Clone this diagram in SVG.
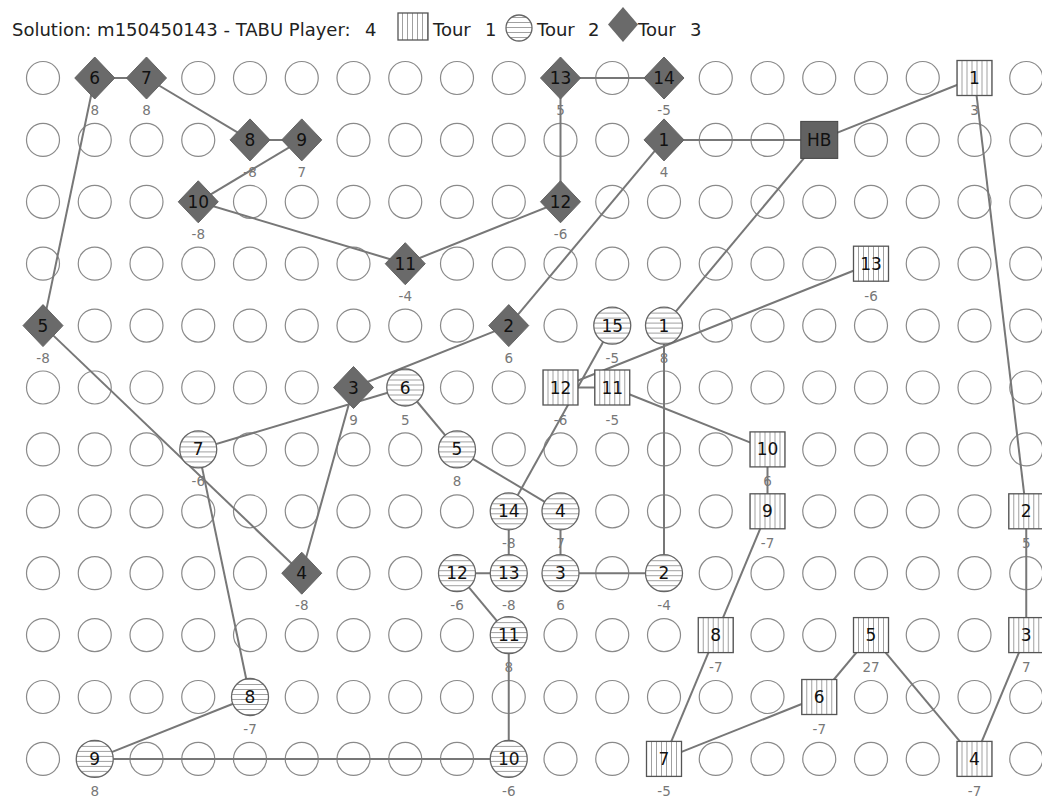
<svg xmlns="http://www.w3.org/2000/svg" xmlns:xlink="http://www.w3.org/1999/xlink" width="1042" height="800" viewBox="0 0 1042 800">
<style>
.gc{fill:#fff;stroke:#8a8a8a;stroke-width:1.2}
.e line{stroke:#777;stroke-width:2}
.n{font-family:"DejaVu Sans",sans-serif;font-size:17px;text-anchor:middle;fill:#111}
.v{font-family:"DejaVu Sans",sans-serif;font-size:13.5px;text-anchor:middle;fill:#777}
.h{font-family:"DejaVu Sans",sans-serif;font-size:18px;fill:#222}
</style>
<defs>
<pattern id="vh" patternUnits="userSpaceOnUse" width="5" height="5"><rect width="5" height="5" fill="#fff"/><line x1="2.5" y1="0" x2="2.5" y2="5" stroke="#a0a0a0" stroke-width="1"/></pattern>
<pattern id="hh" patternUnits="userSpaceOnUse" width="5" height="5"><rect width="5" height="5" fill="#fff"/><line x1="0" y1="2.5" x2="5" y2="2.5" stroke="#a0a0a0" stroke-width="1"/></pattern>
<circle id="gc" r="16.5" class="gc"/>
<polygon id="dia" points="0,-21 20,0 0,21 -20,0" fill="#6a6a6a" stroke="#626262" stroke-width="1"/>
<rect id="sq" x="-17.5" y="-17.5" width="35" height="35" fill="url(#vh)" stroke="#555" stroke-width="1.3"/>
<circle id="hc" r="18.5" fill="url(#hh)" stroke="#666" stroke-width="1.3"/>
</defs>
<rect width="1042" height="800" fill="#fff"/>

<g id="legend">
<text class="h" x="12" y="36">Solution: m150450143 - TABU Player:</text>
<text class="h" x="365" y="36">4</text>
<rect x="398" y="13" width="30" height="27" fill="url(#vh)" stroke="#555" stroke-width="1.3"/>
<text class="h" x="433" y="36">Tour<tspan x="485">1</tspan></text>
<circle cx="519" cy="28" r="13" fill="url(#hh)" stroke="#666" stroke-width="1.3"/>
<text class="h" x="537" y="36">Tour<tspan x="588">2</tspan></text>
<polygon points="623,7 638,24.5 623,42 608,24.5" fill="#6a6a6a"/>
<text class="h" x="638" y="36">Tour<tspan x="690">3</tspan></text>
</g>

<g id="grid">
<g transform="translate(0,78)"><use href="#gc" x="43"/><use href="#gc" x="198.25"/><use href="#gc" x="250"/><use href="#gc" x="301.75"/><use href="#gc" x="353.5"/><use href="#gc" x="405.25"/><use href="#gc" x="457"/><use href="#gc" x="508.75"/><use href="#gc" x="612.25"/><use href="#gc" x="715.75"/><use href="#gc" x="767.5"/><use href="#gc" x="819.25"/><use href="#gc" x="871"/><use href="#gc" x="922.75"/><use href="#gc" x="1026.25"/></g>
<g transform="translate(0,139.9)"><use href="#gc" x="43"/><use href="#gc" x="94.75"/><use href="#gc" x="146.5"/><use href="#gc" x="198.25"/><use href="#gc" x="353.5"/><use href="#gc" x="405.25"/><use href="#gc" x="457"/><use href="#gc" x="508.75"/><use href="#gc" x="560.5"/><use href="#gc" x="612.25"/><use href="#gc" x="715.75"/><use href="#gc" x="767.5"/><use href="#gc" x="871"/><use href="#gc" x="922.75"/><use href="#gc" x="974.5"/><use href="#gc" x="1026.25"/></g>
<g transform="translate(0,201.8)"><use href="#gc" x="43"/><use href="#gc" x="94.75"/><use href="#gc" x="146.5"/><use href="#gc" x="250"/><use href="#gc" x="301.75"/><use href="#gc" x="353.5"/><use href="#gc" x="405.25"/><use href="#gc" x="457"/><use href="#gc" x="508.75"/><use href="#gc" x="612.25"/><use href="#gc" x="664"/><use href="#gc" x="715.75"/><use href="#gc" x="767.5"/><use href="#gc" x="819.25"/><use href="#gc" x="871"/><use href="#gc" x="922.75"/><use href="#gc" x="974.5"/><use href="#gc" x="1026.25"/></g>
<g transform="translate(0,263.7)"><use href="#gc" x="43"/><use href="#gc" x="94.75"/><use href="#gc" x="146.5"/><use href="#gc" x="198.25"/><use href="#gc" x="250"/><use href="#gc" x="301.75"/><use href="#gc" x="353.5"/><use href="#gc" x="457"/><use href="#gc" x="508.75"/><use href="#gc" x="560.5"/><use href="#gc" x="612.25"/><use href="#gc" x="664"/><use href="#gc" x="715.75"/><use href="#gc" x="767.5"/><use href="#gc" x="819.25"/><use href="#gc" x="922.75"/><use href="#gc" x="974.5"/><use href="#gc" x="1026.25"/></g>
<g transform="translate(0,325.6)"><use href="#gc" x="94.75"/><use href="#gc" x="146.5"/><use href="#gc" x="198.25"/><use href="#gc" x="250"/><use href="#gc" x="301.75"/><use href="#gc" x="353.5"/><use href="#gc" x="405.25"/><use href="#gc" x="457"/><use href="#gc" x="560.5"/><use href="#gc" x="715.75"/><use href="#gc" x="767.5"/><use href="#gc" x="819.25"/><use href="#gc" x="871"/><use href="#gc" x="922.75"/><use href="#gc" x="974.5"/><use href="#gc" x="1026.25"/></g>
<g transform="translate(0,387.5)"><use href="#gc" x="43"/><use href="#gc" x="94.75"/><use href="#gc" x="146.5"/><use href="#gc" x="198.25"/><use href="#gc" x="250"/><use href="#gc" x="301.75"/><use href="#gc" x="457"/><use href="#gc" x="508.75"/><use href="#gc" x="664"/><use href="#gc" x="715.75"/><use href="#gc" x="767.5"/><use href="#gc" x="819.25"/><use href="#gc" x="871"/><use href="#gc" x="922.75"/><use href="#gc" x="974.5"/><use href="#gc" x="1026.25"/></g>
<g transform="translate(0,449.4)"><use href="#gc" x="43"/><use href="#gc" x="94.75"/><use href="#gc" x="146.5"/><use href="#gc" x="250"/><use href="#gc" x="301.75"/><use href="#gc" x="353.5"/><use href="#gc" x="405.25"/><use href="#gc" x="508.75"/><use href="#gc" x="560.5"/><use href="#gc" x="612.25"/><use href="#gc" x="664"/><use href="#gc" x="715.75"/><use href="#gc" x="819.25"/><use href="#gc" x="871"/><use href="#gc" x="922.75"/><use href="#gc" x="974.5"/><use href="#gc" x="1026.25"/></g>
<g transform="translate(0,511.3)"><use href="#gc" x="43"/><use href="#gc" x="94.75"/><use href="#gc" x="146.5"/><use href="#gc" x="198.25"/><use href="#gc" x="250"/><use href="#gc" x="301.75"/><use href="#gc" x="353.5"/><use href="#gc" x="405.25"/><use href="#gc" x="457"/><use href="#gc" x="612.25"/><use href="#gc" x="664"/><use href="#gc" x="715.75"/><use href="#gc" x="819.25"/><use href="#gc" x="871"/><use href="#gc" x="922.75"/><use href="#gc" x="974.5"/></g>
<g transform="translate(0,573.2)"><use href="#gc" x="43"/><use href="#gc" x="94.75"/><use href="#gc" x="146.5"/><use href="#gc" x="198.25"/><use href="#gc" x="250"/><use href="#gc" x="353.5"/><use href="#gc" x="405.25"/><use href="#gc" x="612.25"/><use href="#gc" x="715.75"/><use href="#gc" x="767.5"/><use href="#gc" x="819.25"/><use href="#gc" x="871"/><use href="#gc" x="922.75"/><use href="#gc" x="974.5"/><use href="#gc" x="1026.25"/></g>
<g transform="translate(0,635.1)"><use href="#gc" x="43"/><use href="#gc" x="94.75"/><use href="#gc" x="146.5"/><use href="#gc" x="198.25"/><use href="#gc" x="250"/><use href="#gc" x="301.75"/><use href="#gc" x="353.5"/><use href="#gc" x="405.25"/><use href="#gc" x="457"/><use href="#gc" x="560.5"/><use href="#gc" x="612.25"/><use href="#gc" x="664"/><use href="#gc" x="767.5"/><use href="#gc" x="819.25"/><use href="#gc" x="922.75"/><use href="#gc" x="974.5"/></g>
<g transform="translate(0,697)"><use href="#gc" x="43"/><use href="#gc" x="94.75"/><use href="#gc" x="146.5"/><use href="#gc" x="198.25"/><use href="#gc" x="301.75"/><use href="#gc" x="353.5"/><use href="#gc" x="405.25"/><use href="#gc" x="457"/><use href="#gc" x="508.75"/><use href="#gc" x="560.5"/><use href="#gc" x="612.25"/><use href="#gc" x="664"/><use href="#gc" x="715.75"/><use href="#gc" x="767.5"/><use href="#gc" x="871"/><use href="#gc" x="922.75"/><use href="#gc" x="974.5"/><use href="#gc" x="1026.25"/></g>
<g transform="translate(0,758.9)"><use href="#gc" x="43"/><use href="#gc" x="146.5"/><use href="#gc" x="198.25"/><use href="#gc" x="250"/><use href="#gc" x="301.75"/><use href="#gc" x="353.5"/><use href="#gc" x="405.25"/><use href="#gc" x="457"/><use href="#gc" x="560.5"/><use href="#gc" x="612.25"/><use href="#gc" x="715.75"/><use href="#gc" x="767.5"/><use href="#gc" x="819.25"/><use href="#gc" x="871"/><use href="#gc" x="922.75"/><use href="#gc" x="1026.25"/></g>
</g>

<g id="connectors" class="e">
<line x1="819.25" y1="139.9" x2="974.5" y2="78"/>
<line x1="974.5" y1="78" x2="1026.25" y2="511.3"/>
<line x1="1026.25" y1="511.3" x2="1026.25" y2="635.1"/>
<line x1="1026.25" y1="635.1" x2="974.5" y2="758.9"/>
<line x1="974.5" y1="758.9" x2="871" y2="635.1"/>
<line x1="871" y1="635.1" x2="819.25" y2="697"/>
<line x1="819.25" y1="697" x2="664" y2="758.9"/>
<line x1="664" y1="758.9" x2="715.75" y2="635.1"/>
<line x1="715.75" y1="635.1" x2="767.5" y2="511.3"/>
<line x1="767.5" y1="511.3" x2="767.5" y2="449.4"/>
<line x1="767.5" y1="449.4" x2="612.25" y2="387.5"/>
<line x1="612.25" y1="387.5" x2="560.5" y2="387.5"/>
<line x1="560.5" y1="387.5" x2="871" y2="263.7"/>

<line x1="819.25" y1="139.9" x2="664" y2="325.6"/>
<line x1="664" y1="325.6" x2="664" y2="573.2"/>
<line x1="664" y1="573.2" x2="560.5" y2="573.2"/>
<line x1="560.5" y1="573.2" x2="560.5" y2="511.3"/>
<line x1="560.5" y1="511.3" x2="457" y2="449.4"/>
<line x1="457" y1="449.4" x2="405.25" y2="387.5"/>
<line x1="405.25" y1="387.5" x2="198.25" y2="449.4"/>
<line x1="198.25" y1="449.4" x2="250" y2="697"/>
<line x1="250" y1="697" x2="94.75" y2="758.9"/>
<line x1="94.75" y1="758.9" x2="508.75" y2="758.9"/>
<line x1="508.75" y1="758.9" x2="508.75" y2="635.1"/>
<line x1="508.75" y1="635.1" x2="457" y2="573.2"/>
<line x1="457" y1="573.2" x2="508.75" y2="573.2"/>
<line x1="508.75" y1="573.2" x2="508.75" y2="511.3"/>
<line x1="508.75" y1="511.3" x2="612.25" y2="325.6"/>

<line x1="819.25" y1="139.9" x2="664" y2="139.9"/>
<line x1="664" y1="139.9" x2="508.75" y2="325.6"/>
<line x1="508.75" y1="325.6" x2="353.5" y2="387.5"/>
<line x1="353.5" y1="387.5" x2="301.75" y2="573.2"/>
<line x1="301.75" y1="573.2" x2="43" y2="325.6"/>
<line x1="43" y1="325.6" x2="94.75" y2="78"/>
<line x1="94.75" y1="78" x2="146.5" y2="78"/>
<line x1="146.5" y1="78" x2="250" y2="139.9"/>
<line x1="250" y1="139.9" x2="301.75" y2="139.9"/>
<line x1="301.75" y1="139.9" x2="198.25" y2="201.8"/>
<line x1="198.25" y1="201.8" x2="405.25" y2="263.7"/>
<line x1="405.25" y1="263.7" x2="560.5" y2="201.8"/>
<line x1="560.5" y1="201.8" x2="560.5" y2="78"/>
<line x1="560.5" y1="78" x2="664" y2="78"/>
</g>

<g id="HB" transform="translate(819.25,139.9)"><rect x="-18.5" y="-18.5" width="37" height="37" fill="#626262" stroke="#444" stroke-width="1"/><text class="n" y="6">HB</text></g>

<g id="t1-1" transform="translate(974.5,78)"><use href="#sq"/><text class="n" y="6">1</text><text class="v" y="37">3</text></g>
<g id="t1-2" transform="translate(1026.25,511.3)"><use href="#sq"/><text class="n" y="6">2</text><text class="v" y="37">5</text></g>
<g id="t1-3" transform="translate(1026.25,635.1)"><use href="#sq"/><text class="n" y="6">3</text><text class="v" y="37">7</text></g>
<g id="t1-4" transform="translate(974.5,758.9)"><use href="#sq"/><text class="n" y="6">4</text><text class="v" y="37">-7</text></g>
<g id="t1-5" transform="translate(871,635.1)"><use href="#sq"/><text class="n" y="6">5</text><text class="v" y="37">27</text></g>
<g id="t1-6" transform="translate(819.25,697)"><use href="#sq"/><text class="n" y="6">6</text><text class="v" y="37">-7</text></g>
<g id="t1-7" transform="translate(664,758.9)"><use href="#sq"/><text class="n" y="6">7</text><text class="v" y="37">-5</text></g>
<g id="t1-8" transform="translate(715.75,635.1)"><use href="#sq"/><text class="n" y="6">8</text><text class="v" y="37">-7</text></g>
<g id="t1-9" transform="translate(767.5,511.3)"><use href="#sq"/><text class="n" y="6">9</text><text class="v" y="37">-7</text></g>
<g id="t1-10" transform="translate(767.5,449.4)"><use href="#sq"/><text class="n" y="6">10</text><text class="v" y="37">6</text></g>
<g id="t1-11" transform="translate(612.25,387.5)"><use href="#sq"/><text class="n" y="6">11</text><text class="v" y="37">-5</text></g>
<g id="t1-12" transform="translate(560.5,387.5)"><use href="#sq"/><text class="n" y="6">12</text><text class="v" y="37">-6</text></g>
<g id="t1-13" transform="translate(871,263.7)"><use href="#sq"/><text class="n" y="6">13</text><text class="v" y="37">-6</text></g>

<g id="t2-1" transform="translate(664,325.6)"><use href="#hc"/><text class="n" y="6">1</text><text class="v" y="37">8</text></g>
<g id="t2-2" transform="translate(664,573.2)"><use href="#hc"/><text class="n" y="6">2</text><text class="v" y="37">-4</text></g>
<g id="t2-3" transform="translate(560.5,573.2)"><use href="#hc"/><text class="n" y="6">3</text><text class="v" y="37">6</text></g>
<g id="t2-4" transform="translate(560.5,511.3)"><use href="#hc"/><text class="n" y="6">4</text><text class="v" y="37">7</text></g>
<g id="t2-5" transform="translate(457,449.4)"><use href="#hc"/><text class="n" y="6">5</text><text class="v" y="37">8</text></g>
<g id="t2-6" transform="translate(405.25,387.5)"><use href="#hc"/><text class="n" y="6">6</text><text class="v" y="37">5</text></g>
<g id="t2-7" transform="translate(198.25,449.4)"><use href="#hc"/><text class="n" y="6">7</text><text class="v" y="37">-6</text></g>
<g id="t2-8" transform="translate(250,697)"><use href="#hc"/><text class="n" y="6">8</text><text class="v" y="37">-7</text></g>
<g id="t2-9" transform="translate(94.75,758.9)"><use href="#hc"/><text class="n" y="6">9</text><text class="v" y="37">8</text></g>
<g id="t2-10" transform="translate(508.75,758.9)"><use href="#hc"/><text class="n" y="6">10</text><text class="v" y="37">-6</text></g>
<g id="t2-11" transform="translate(508.75,635.1)"><use href="#hc"/><text class="n" y="6">11</text><text class="v" y="37">8</text></g>
<g id="t2-12" transform="translate(457,573.2)"><use href="#hc"/><text class="n" y="6">12</text><text class="v" y="37">-6</text></g>
<g id="t2-13" transform="translate(508.75,573.2)"><use href="#hc"/><text class="n" y="6">13</text><text class="v" y="37">-8</text></g>
<g id="t2-14" transform="translate(508.75,511.3)"><use href="#hc"/><text class="n" y="6">14</text><text class="v" y="37">-8</text></g>
<g id="t2-15" transform="translate(612.25,325.6)"><use href="#hc"/><text class="n" y="6">15</text><text class="v" y="37">-5</text></g>

<g id="t3-1" transform="translate(664,139.9)"><use href="#dia"/><text class="n" y="6">1</text><text class="v" y="37">4</text></g>
<g id="t3-2" transform="translate(508.75,325.6)"><use href="#dia"/><text class="n" y="6">2</text><text class="v" y="37">6</text></g>
<g id="t3-3" transform="translate(353.5,387.5)"><use href="#dia"/><text class="n" y="6">3</text><text class="v" y="37">9</text></g>
<g id="t3-4" transform="translate(301.75,573.2)"><use href="#dia"/><text class="n" y="6">4</text><text class="v" y="37">-8</text></g>
<g id="t3-5" transform="translate(43,325.6)"><use href="#dia"/><text class="n" y="6">5</text><text class="v" y="37">-8</text></g>
<g id="t3-6" transform="translate(94.75,78)"><use href="#dia"/><text class="n" y="6">6</text><text class="v" y="37">8</text></g>
<g id="t3-7" transform="translate(146.5,78)"><use href="#dia"/><text class="n" y="6">7</text><text class="v" y="37">8</text></g>
<g id="t3-8" transform="translate(250,139.9)"><use href="#dia"/><text class="n" y="6">8</text><text class="v" y="37">-8</text></g>
<g id="t3-9" transform="translate(301.75,139.9)"><use href="#dia"/><text class="n" y="6">9</text><text class="v" y="37">7</text></g>
<g id="t3-10" transform="translate(198.25,201.8)"><use href="#dia"/><text class="n" y="6">10</text><text class="v" y="37">-8</text></g>
<g id="t3-11" transform="translate(405.25,263.7)"><use href="#dia"/><text class="n" y="6">11</text><text class="v" y="37">-4</text></g>
<g id="t3-12" transform="translate(560.5,201.8)"><use href="#dia"/><text class="n" y="6">12</text><text class="v" y="37">-6</text></g>
<g id="t3-13" transform="translate(560.5,78)"><use href="#dia"/><text class="n" y="6">13</text><text class="v" y="37">5</text></g>
<g id="t3-14" transform="translate(664,78)"><use href="#dia"/><text class="n" y="6">14</text><text class="v" y="37">-5</text></g>
</svg>
